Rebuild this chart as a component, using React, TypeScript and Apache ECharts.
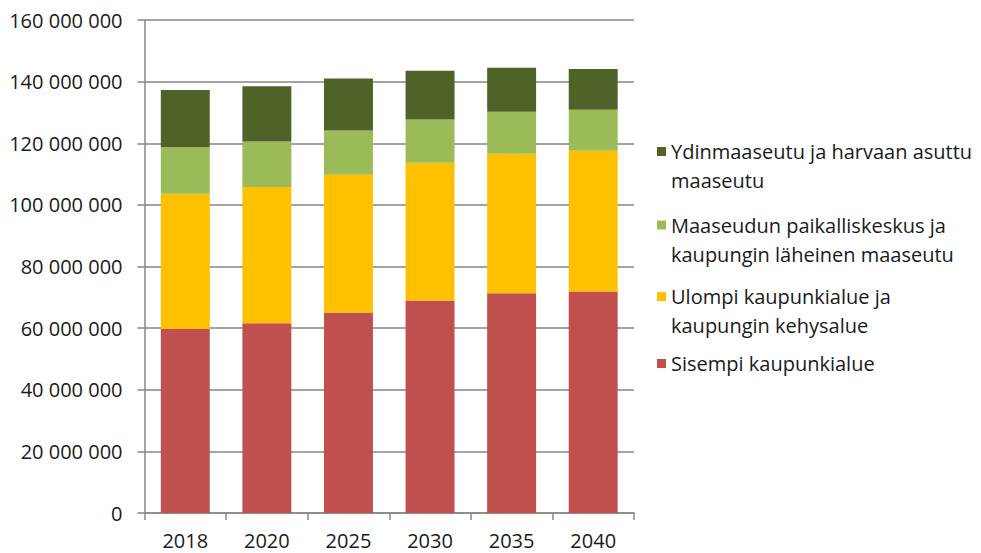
import React, { useEffect, useRef } from "react";
import * as echarts from "echarts";

const years = ["2018", "2020", "2025", "2030", "2035", "2040"];
const sisempi = [59700000, 61600000, 65100000, 69000000, 71300000, 71900000];
const ulompi = [43900000, 44200000, 44700000, 44700000, 45300000, 45700000];
const maaseudunPaikallis = [15100000, 14800000, 14300000, 14000000, 13600000, 13300000];
const ydinmaaseutu = [18600000, 17900000, 16900000, 15800000, 14300000, 13200000];

const names = [
  "Sisempi kaupunkialue",
  "Ulompi kaupunkialue ja kaupungin kehysalue",
  "Maaseudun paikalliskeskus ja kaupungin läheinen maaseutu",
  "Ydinmaaseutu ja harvaan asuttu maaseutu",
];
const legendLabels: Record<string, string> = {
  "Sisempi kaupunkialue": "Sisempi kaupunkialue",
  "Ulompi kaupunkialue ja kaupungin kehysalue": "\nUlompi kaupunkialue ja\nkaupungin kehysalue",
  "Maaseudun paikalliskeskus ja kaupungin läheinen maaseutu":
    "\nMaaseudun paikalliskeskus ja\nkaupungin läheinen maaseutu",
  "Ydinmaaseutu ja harvaan asuttu maaseutu": "\nYdinmaaseutu ja harvaan asuttu\nmaaseutu",
};
const colors = ["#C0504D", "#FFC000", "#9BBB59", "#4F6228"];

const FONT = "'Open Sans', sans-serif";

export default function App() {
  const ref = useRef<HTMLDivElement>(null);
  useEffect(() => {
    if (!ref.current) return;
    const chart = echarts.init(ref.current, undefined, { renderer: "svg" });
    const seriesData = [sisempi, ulompi, maaseudunPaikallis, ydinmaaseutu];
    const legendTops = [349, 253, 181.5, 108];
    const legendCommon = {
      orient: "vertical",
      left: 657,
      padding: 0,
      icon: "rect",
      itemWidth: 9,
      itemHeight: 9,
      selectedMode: false,
      formatter: (n: string) => legendLabels[n] ?? n,
      textStyle: { fontFamily: FONT, fontSize: 20, color: "#1a1a1a", lineHeight: 29 },
    };
    chart.setOption({
      animation: false,
      backgroundColor: "#ffffff",
      textStyle: { fontFamily: FONT },
      grid: { left: 144.5, right: 347, top: 20, bottom: 40, containLabel: false },
      legend: names.map((n, i) => ({ ...legendCommon, top: legendTops[i], data: [n] })),
      xAxis: {
        type: "category",
        data: years,
        boundaryGap: true,
        axisLine: { show: true, lineStyle: { color: "#868686", width: 1.5 } },
        axisTick: { show: true, length: 7, alignWithLabel: false, lineStyle: { color: "#868686", width: 1.5 } },
        axisLabel: { fontFamily: FONT, fontSize: 20, color: "#1a1a1a", margin: 17 },
      },
      yAxis: {
        type: "value",
        min: 0,
        max: 160000000,
        interval: 20000000,
        axisLine: { show: true, lineStyle: { color: "#868686", width: 1.5 } },
        axisTick: { show: true, length: 7, lineStyle: { color: "#868686", width: 1.5 } },
        splitLine: { show: true, lineStyle: { color: "#868686", width: 1.5 } },
        axisLabel: {
          fontFamily: FONT,
          fontSize: 20,
          color: "#1a1a1a",
          margin: 22,
          formatter: (v: number) => String(v).replace(/\B(?=(\d{3})+(?!\d))/g, " "),
        },
      },
      series: names.map((n, i) => ({
        name: n,
        type: "bar",
        stack: "total",
        data: seriesData[i],
        barCategoryGap: "40%",
        itemStyle: { color: colors[i] },
      })),
    });
    return () => chart.dispose();
  }, []);
  return (
    <div
      ref={ref}
      style={{ position: "fixed", left: 0, top: 0, width: 981, height: 553 }}
    />
  );
}
